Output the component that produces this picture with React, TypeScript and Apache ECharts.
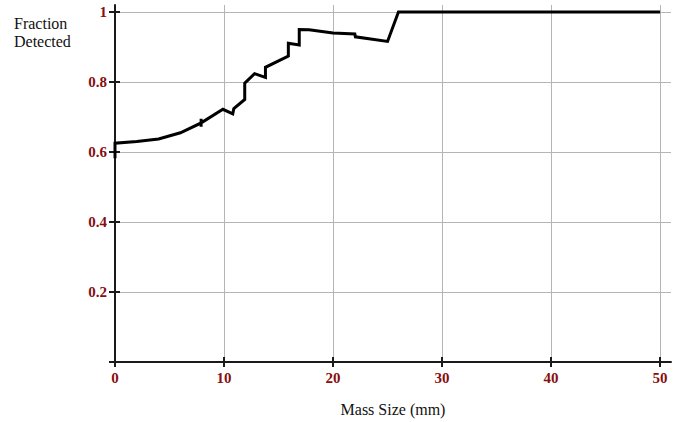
import React, { useEffect, useRef } from "react";
import * as echarts from "echarts";

// Tick values and labels
const xTickValues = [0, 10, 20, 30, 40, 50];
const xLabelValues = [0, 10, 20, 30, 40, 50];
const yTickValues = [0, 0.2, 0.4, 0.6, 0.8, 1];
const yLabelValues = [0.2, 0.4, 0.6, 0.8, 1];
const xGridValues = [10, 20, 30, 40, 50];
const yGridValues = [0.2, 0.4, 0.6, 0.8, 1];

// Curve: mass size (mm) vs fraction detected
const massSize = [
  0, 0, 2, 4, 6, 7.9, 7.9, 7.9, 7.9, 9.9, 10.8, 10.9, 11.9, 11.9, 12.8, 13.8, 13.8,
  15.9, 15.9, 16.9, 16.9, 17.8, 20, 22, 22.05, 25, 26, 50,
];
const fraction = [
  0.582, 0.625, 0.63, 0.637, 0.655, 0.683, 0.695, 0.672, 0.683, 0.722, 0.709, 0.724,
  0.75, 0.797, 0.824, 0.813, 0.842, 0.874, 0.911, 0.906, 0.95, 0.949, 0.94, 0.937,
  0.929, 0.916, 1, 1,
];

const xMin = 0;
const xMax = 51;
const yMin = 0;
const yMax = 1.02;

const labelColor = "#860f0f";
const serif = "Liberation Serif";

export default function App() {
  const ref = useRef<HTMLDivElement>(null);
  useEffect(() => {
    if (!ref.current) return;
    const chart = echarts.init(ref.current, undefined, { renderer: "svg" });
    const points = massSize.map((x, i) => [x, fraction[i]]);
    const axisLineStyle = { color: "#1a1a1a", width: 2 };
    chart.setOption({
      animation: false,
      backgroundColor: "#ffffff",
      grid: { left: 115, right: 12, top: 5, bottom: 60, containLabel: false },
      graphic: [
        {
          type: "text",
          left: 14,
          top: 14,
          style: {
            text: "Fraction\nDetected",
            font: `16px "${serif}"`,
            lineHeight: 18,
            fill: "#111",
          },
        },
      ],
      xAxis: [
        {
          type: "value",
          min: xMin,
          max: xMax,
          interval: 10,
          name: "Mass Size (mm)",
          nameLocation: "middle",
          nameGap: 39,
          nameTextStyle: { fontFamily: serif, fontSize: 16, color: "#111" },
          axisLine: { show: true, lineStyle: axisLineStyle },
          axisTick: { show: true, inside: false, length: 5, customValues: xTickValues, lineStyle: axisLineStyle },
          axisLabel: {
            customValues: xLabelValues,
            color: labelColor,
            fontFamily: serif,
            fontSize: 15,
            fontWeight: "bold",
            margin: 8,
          },
          splitLine: { show: true, customValues: xGridValues, lineStyle: { color: "#b5b5b5", width: 1 } },
        },
        {
          type: "value",
          position: "bottom",
          min: xMin,
          max: xMax,
          interval: 10,
          axisLine: { show: false },
          axisTick: { show: true, inside: true, length: 5, customValues: xTickValues, lineStyle: axisLineStyle },
          axisLabel: { show: false },
          splitLine: { show: false },
        },
      ],
      yAxis: [
        {
          type: "value",
          min: yMin,
          max: yMax,
          interval: 0.2,
          axisLine: { show: true, lineStyle: axisLineStyle },
          axisTick: { show: true, inside: false, length: 6, customValues: yTickValues, lineStyle: axisLineStyle },
          axisLabel: {
            customValues: yLabelValues,
            color: labelColor,
            fontFamily: serif,
            fontSize: 15,
            fontWeight: "bold",
            margin: 8,
            formatter: (v: number) => String(v),
          },
          splitLine: { show: true, customValues: yGridValues, lineStyle: { color: "#b5b5b5", width: 1 } },
        },
        {
          type: "value",
          position: "left",
          min: yMin,
          max: yMax,
          interval: 0.2,
          axisLine: { show: false },
          axisTick: { show: true, inside: true, length: 5, customValues: yTickValues, lineStyle: axisLineStyle },
          axisLabel: { show: false },
          splitLine: { show: false },
        },
      ],
      series: [
        {
          type: "line",
          data: points,
          showSymbol: false,
          symbol: "none",
          lineStyle: { color: "#000", width: 3, join: "miter" },
          z: 5,
        },
      ],
    });
    return () => chart.dispose();
  }, []);
  return <div ref={ref} style={{ width: 683, height: 422, position: "absolute", left: 0, top: 0 }} />;
}
